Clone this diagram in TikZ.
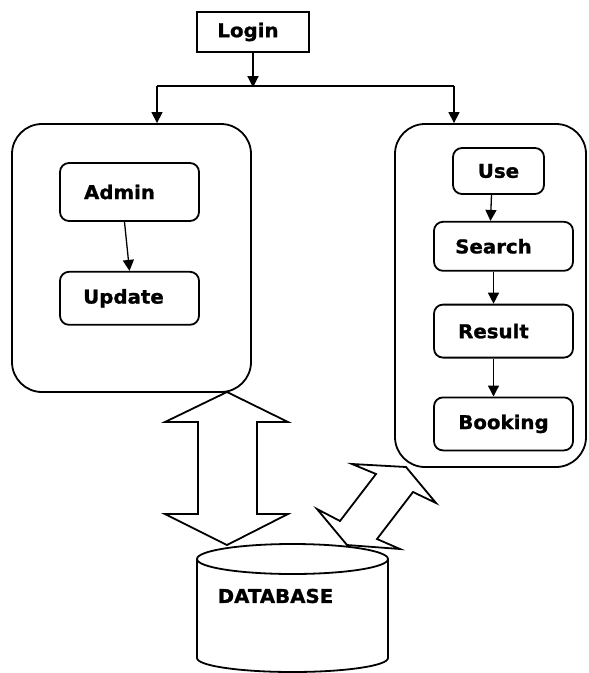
\documentclass[tikz,border=0pt]{standalone}
\usepackage{fontspec}
\newfontfamily\boxfont{DejaVu Sans}[FakeStretch=1.04, FakeBold=1.2]
\usetikzlibrary{calc}
\usetikzlibrary{positioning}
\usetikzlibrary{arrows.meta}

\begin{document}
\begin{tikzpicture}[x=1pt, y=-1pt,
        font=\boxfont\bfseries\fontsize{19}{22}\selectfont,
        box/.style={draw, line width=1.8pt, rounded corners=9pt,
            minimum width=139pt, inner sep=0pt},
        panel/.style={draw, line width=1.8pt, rounded corners=30pt,
            inner sep=0pt},
        link/.style={line width=1.3pt, -{Triangle[width=11pt,length=11pt]}},
        block/.style={line width=1.8pt, line join=miter}]

                \useasboundingbox (0,0) rectangle (589,673);

                \def\g{26pt}
                \def\h{32pt}
                \def\k{38pt}

                % the two big panels go first, the boxes sit on top
                \node (adminpanel) [panel, minimum width=239pt,
                    minimum height=268pt] at (131.5,258) {};
                \node (userpanel) [panel, minimum width=191pt,
                    minimum height=343pt] at (490.5,295.5) {};

                \node (login) [draw, line width=2.4pt, minimum width=112pt,
                    minimum height=40pt] at (253,32) {\hspace*{-10pt}Login};

                % admin side
                \node (admin) [box, minimum height=58pt] at (129.5,192)
                {\hspace*{-20pt}Admin};
                \node (update) [box, minimum height=53pt, below=49pt of admin]
                {\hspace*{-12pt}Update};

                % user side
                \node (use) [box, minimum width=91pt, minimum height=46pt]
                at (498.5,171) {Use};
                \node (search) [box, minimum height=49pt,
                    below=\g of use, xshift=5pt] {\hspace*{-20pt}Search};
                \node (result) [box, minimum height=53pt, below=\h of search]
                {\hspace*{-20pt}Result};
                \node (booking) [box, minimum height=53pt, below=\k of result]
                {Booking};

                \node (database) at (275.5,596) {DATABASE};

                \coordinate (fork) at ($(login.south)+(0,34)$);
                \coordinate (forkL) at (157,86);
                \coordinate (forkR) at (454,86);

                \begin{scope}
                    \draw[link] (login.south) -- (fork);
                    \draw[line width=1.3pt] (forkL) -- (forkR);
                    \draw[link] (forkL) -- (forkL |- adminpanel.north);
                    \draw[link] (forkR) -- (forkR |- userpanel.north);
                    \draw[link] ([xshift=-5pt]admin.south) -- (update.north);
                    \draw[link] ([xshift=-7pt]use.south)
                        -- ([xshift=-13pt]search.north);
                    \draw[link] ([xshift=-10pt]search.south)
                        -- ([xshift=-10pt]result.north);
                    \draw[link] ([xshift=-10pt]result.south)
                        -- ([xshift=-10pt]booking.north);
                \end{scope}

                % database drum
                \draw[block] (197,559) -- (197,658)
                    arc[start angle=180, end angle=0, x radius=95.5,
                        y radius=14] -- (388,559);
                \draw[block] (292.5,559) ellipse [x radius=95.5, y radius=15];

                % block arrows to the database
                \draw[block] (227,392) -- (288,422) -- (257,422) -- (257,514)
                    -- (288,514) -- (227,545) -- (165,514) -- (198,514)
                    -- (198,422) -- (165,422) -- cycle;
                \draw[block] (406,467) -- (436,503) -- (413,492) -- (377,539)
                    -- (400,549) -- (347,545) -- (317,509) -- (340,521)
                    -- (376,474) -- (352,464) -- cycle;

\end{tikzpicture}
\end{document}
